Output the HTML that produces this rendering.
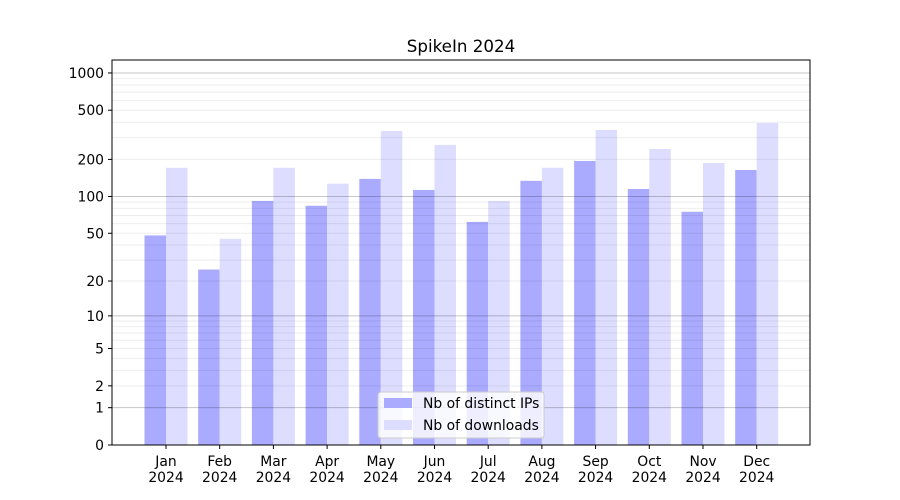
<!DOCTYPE html>
<html><head><meta charset="utf-8"><style>body{margin:0;background:#fff}svg{display:block}</style></head>
<body>
<svg id="chart" width="900" height="500" xmlns="http://www.w3.org/2000/svg" font-family="DejaVu Sans, Liberation Sans, sans-serif">
<rect width="900" height="500" fill="#fff"/>
<text x="461" y="52" text-anchor="middle" font-size="16.7" fill="#000">SpikeIn 2024</text>
<g id="bars"></g><g id="grid"></g><g id="axes"></g>
<g>
<rect x="378" y="392" width="166" height="46" rx="3" fill="#fff" fill-opacity="0.8" stroke="#ccc"/>
<rect x="384" y="398" width="28" height="10" fill="#aaaaff"/>
<text x="423" y="408" font-size="13.9" fill="#000">Nb of distinct IPs</text>
<rect x="384" y="420" width="28" height="10" fill="#ddddff"/>
<text x="423" y="430" font-size="13.9" fill="#000">Nb of downloads</text>
</g>
</svg>
<script>
const categories=["Jan","Feb","Mar","Apr","May","Jun","Jul","Aug","Sep","Oct","Nov","Dec"];
const ips=[48,25,92,84,139,113,62,134,194,115,75,164];
const downloads=[171,45,171,127,340,262,92,171,346,243,187,394];
const yTicks=[0,1,2,5,10,20,50,100,200,500,1000];
const majorGrid=[1,10,100,1000];
const minorGrid=[2,3,4,5,6,7,8,9,20,30,40,50,60,70,80,90,200,300,400,500,600,700,800,900];
const NS="http://www.w3.org/2000/svg";
const L=112,R=810,T=60,B=445;
function y(v){return B-124*Math.log10(v+1);}
function xc(i){return 166+i*53.7;}
function mk(t,a,p){const e=document.createElementNS(NS,t);for(const k in a)e.setAttribute(k,a[k]);p.appendChild(e);return e;}
const bars=document.getElementById('bars'),grid=document.getElementById('grid'),axes=document.getElementById('axes');
categories.forEach((c,i)=>{
 const a=mk('rect',{x:xc(i)-21.5,y:y(ips[i]),width:21.5,height:B-y(ips[i]),fill:'#aaaaff'},bars);
 
 
 const b=mk('rect',{x:xc(i),y:y(downloads[i]),width:21.5,height:B-y(downloads[i]),fill:'#ddddff'},bars);
 
 
 mk('line',{x1:xc(i),x2:xc(i),y1:B,y2:B+4,stroke:'#000'},axes);
 const t=mk('text',{x:xc(i),y:B+21,'text-anchor':'middle','font-size':13.9},axes);
 
 
 t.innerHTML='<tspan x="'+xc(i)+'">'+c+'</tspan><tspan x="'+xc(i)+'" dy="16">2024</tspan>';
});
minorGrid.forEach(v=>{mk('line',{x1:L,x2:R,y1:y(v),y2:y(v),stroke:'#000','stroke-opacity':0.07},grid);});
majorGrid.forEach(v=>{mk('line',{x1:L,x2:R,y1:y(v),y2:y(v),stroke:'#000','stroke-opacity':0.22},grid);});
const frame=mk('rect',{x:L,y:T,width:R-L,height:B-T,fill:'none',stroke:'#000','stroke-width':1},axes);


yTicks.forEach(v=>{
 mk('line',{x1:L-4,x2:L,y1:y(v),y2:y(v),stroke:'#000'},axes);
 const t=mk('text',{x:L-8,y:y(v)+5,'text-anchor':'end','font-size':13.9},axes);
 
 
 t.textContent=v;
});
</script>
</body></html>
